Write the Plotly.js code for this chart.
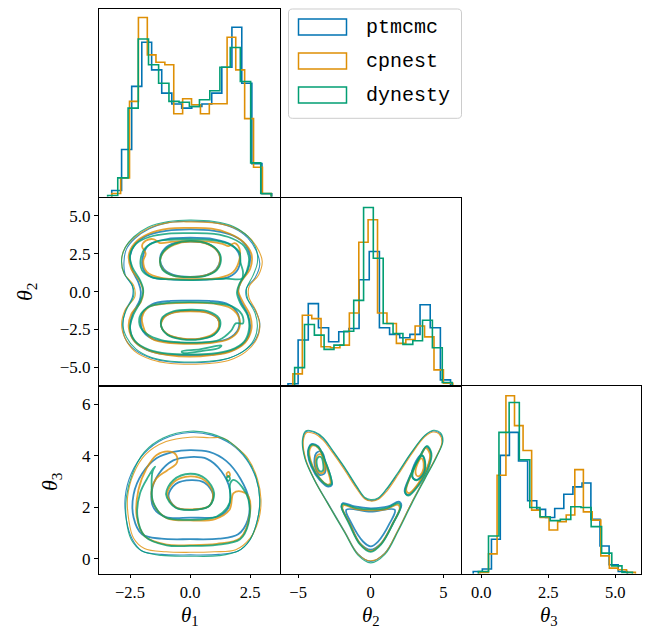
<!DOCTYPE html>
<html><head><meta charset="utf-8">
<script src="https://cdn.plot.ly/plotly-3.0.1.min.js"></script>
<style>html,body{margin:0;padding:0;background:#fff;}#chart{width:650px;height:628px;}</style>
</head><body><div id="chart"></div>
<script>
// ---------------- DATA ----------------
const seriesNames = ['ptmcmc', 'cpnest', 'dynesty'];
const seriesColors = ['#0173B2', '#DE8F05', '#029E73'];

// theta_1 marginal (step histograms, heights in % of panel height)
const t1Edges_ptmcmc = [-3.26,-2.85,-2.43,-2.01,-1.60,-1.18,-0.76,-0.35,0.07,0.49,0.90,1.32,1.74,2.15,2.57,2.99,3.40];
const t1Hist_ptmcmc  = [3.4,25.2,58.9,82.4,67.7,55.3,49.5,47.3,48.2,49.5,55.3,69.1,90.4,60.6,17.7,1.6];
const t1Edges_cpnest = [-3.26,-2.89,-2.52,-2.15,-1.78,-1.42,-1.05,-0.68,-0.31,0.06,0.43,0.80,1.17,1.54,1.90,2.27,2.64,3.01,3.38];
const t1Hist_cpnest  = [1.8,10.1,50.9,95.6,75.7,71.8,70.4,44.3,52.3,49.1,44.3,49.6,49.6,85.1,67.7,41.7,15.8,1.8];
const t1Edges_dynesty = [-3.43,-3.01,-2.58,-2.16,-1.73,-1.31,-0.88,-0.46,-0.03,0.39,0.82,1.24,1.67,2.09,2.52,2.94,3.37];
const t1Hist_dynesty  = [0.7,10.1,47.3,84.2,70.4,60.6,50.9,50.4,48.2,51.8,56.6,69.1,79.6,61.5,18.1,1.8];

// theta_2 marginal
const t2Edges_ptmcmc = [-5.70,-5.00,-4.30,-3.60,-2.90,-2.20,-1.50,-0.80,-0.10,0.60,1.30,2.00,2.70,3.40,4.10,4.80,5.50];
const t2Hist_ptmcmc  = [0.9,24.2,43.6,30.7,23.3,28.6,30.3,56.3,71.3,30.7,27.2,25.4,27.2,43.0,30.7,3.0];
const t2Edges_cpnest = [-5.36,-4.71,-4.06,-3.42,-2.77,-2.12,-1.47,-0.82,-0.18,0.47,1.12,1.77,2.42,3.06,3.71,4.36,5.01,5.66];
const t2Hist_cpnest  = [6.2,37.4,35.6,20.6,20.1,21.5,38.6,76.2,88.2,38.6,33.0,22.4,24.5,31.7,25.9,8.3,1.2];
const t2Edges_dynesty = [-5.24,-4.56,-3.88,-3.21,-2.53,-1.85,-1.17,-0.49,0.18,0.86,1.54,2.22,2.90,3.57,4.25,4.93,5.61];
const t2Hist_dynesty  = [9.5,32.5,26.8,19.2,21.5,28.9,45.3,94.7,67.7,33.0,27.7,21.9,23.8,34.7,20.1,1.6];

// theta_3 marginal
const t3Edges_ptmcmc = [-0.30,0.04,0.38,0.71,1.05,1.39,1.73,2.07,2.40,2.74,3.08,3.42,3.76,4.09,4.43,4.77,5.11,5.45];
const t3Hist_ptmcmc  = [1.2,2.5,18.4,63.1,75.4,60.1,38.9,34.3,30.0,34.8,42.4,46.3,48.4,29.0,14.8,4.8,1.2];
const t3Edges_cpnest = [-0.05,0.27,0.59,0.92,1.24,1.56,1.88,2.20,2.53,2.85,3.17,3.49,3.81,4.14,4.46,4.78,5.10,5.42,5.75];
const t3Hist_cpnest  = [0.7,10.6,52.5,94.9,79.0,65.7,33.9,30.0,23.3,27.7,31.3,55.5,33.0,28.6,9.5,3.0,2.1,0.7];
const t3Edges_dynesty = [-0.11,0.27,0.66,1.04,1.42,1.81,2.19,2.57,2.95,3.34,3.72,4.10,4.49,4.87,5.25,5.64];
const t3Hist_dynesty  = [1.2,20.1,75.4,91.3,60.8,35.3,30.4,28.3,29.0,35.7,35.3,25.1,11.0,4.2,0.7];

// contour lines (theta_1, theta_2); first curve = outermost
const c12_ptmcmc = [
 [[0,4.65],[1.0,4.55],[1.8,4.2],[2.4,3.55],[2.75,2.7],[2.9,1.8],[2.7,0.9],[2.35,0.25],[2.35,-0.4],[2.7,-1.2],[2.9,-2.1],[2.75,-3.1],[2.3,-3.85],[1.6,-4.4],[0.8,-4.65],[0,-4.7],[-0.8,-4.65],[-1.6,-4.4],[-2.3,-3.85],[-2.7,-3.1],[-2.8,-2.2],[-2.7,-1.3],[-2.4,-0.35],[-2.4,0.35],[-2.7,1.1],[-2.75,2.0],[-2.65,2.8],[-2.3,3.5],[-1.7,4.15],[-0.9,4.55],[0,4.65]],
 [[0,4.1],[1.0,4.0],[1.8,3.68],[2.3,3.1],[2.5,2.3],[2.4,1.4],[2.1,0.6],[2.0,0],[2.1,-0.6],[2.4,-1.5],[2.5,-2.4],[2.35,-3.2],[1.8,-3.85],[1.0,-4.15],[0,-4.2],[-1.0,-4.15],[-1.8,-3.85],[-2.35,-3.2],[-2.5,-2.4],[-2.4,-1.5],[-2.1,-0.6],[-2.05,0],[-2.15,0.6],[-2.4,1.4],[-2.5,2.3],[-2.3,3.1],[-1.8,3.68],[-1.0,4.0],[0,4.1]],
 [[0,3.55],[1.0,3.45],[1.7,3.1],[2.05,2.4],[2.0,1.5],[1.6,0.95],[0.8,0.8],[0,0.78],[-0.8,0.8],[-1.6,0.95],[-1.95,1.5],[-1.95,2.4],[-1.7,3.1],[-1.0,3.45],[0,3.55]],
 [[0,-0.6],[0.8,-0.62],[1.6,-0.85],[2.0,-1.5],[2.0,-2.5],[1.6,-3.1],[0.8,-3.35],[0,-3.4],[-0.8,-3.35],[-1.6,-3.1],[-2.0,-2.5],[-2.0,-1.5],[-1.6,-0.85],[-0.8,-0.62],[0,-0.6]],
 [[0,3.3],[0.75,3.15],[1.15,2.65],[1.25,2.1],[1.1,1.5],[0.7,1.1],[0,0.97],[-0.7,1.1],[-1.1,1.5],[-1.25,2.1],[-1.15,2.65],[-0.75,3.15],[0,3.3]],
 [[0,-1.25],[0.72,-1.38],[1.15,-1.8],[1.22,-2.3],[0.98,-2.85],[0.4,-3.12],[-0.3,-3.12],[-0.92,-2.85],[-1.2,-2.3],[-1.12,-1.75],[-0.7,-1.38],[0,-1.25]]
];
const c12_cpnest = [
 [[0,4.6],[0.9,4.55],[1.7,4.3],[2.3,3.8],[2.75,3.0],[3.0,2.0],[2.85,1.1],[2.45,0.3],[2.45,-0.4],[2.75,-1.3],[2.9,-2.3],[2.75,-3.2],[2.3,-4.0],[1.6,-4.55],[0.8,-4.75],[0,-4.8],[-0.8,-4.75],[-1.6,-4.5],[-2.3,-3.95],[-2.7,-3.1],[-2.85,-2.2],[-2.7,-1.2],[-2.3,-0.35],[-2.35,0.4],[-2.75,1.2],[-2.85,2.1],[-2.7,2.9],[-2.3,3.6],[-1.7,4.2],[-0.9,4.55],[0,4.6]],
 [[0,4.2],[0.9,4.15],[1.6,3.85],[2.2,3.3],[2.55,2.5],[2.5,1.5],[2.15,0.7],[2.0,0.1],[2.2,-0.7],[2.5,-1.6],[2.55,-2.5],[2.3,-3.35],[1.7,-3.95],[0.9,-4.2],[0,-4.3],[-0.9,-4.2],[-1.7,-3.9],[-2.3,-3.3],[-2.55,-2.4],[-2.45,-1.5],[-2.05,-0.7],[-1.95,0],[-2.1,0.7],[-2.45,1.5],[-2.55,2.4],[-2.3,3.2],[-1.75,3.8],[-0.9,4.15],[0,4.2]],
 [[0,3.35],[0.8,3.3],[1.35,3.15],[1.6,3.0],[1.85,3.2],[2.05,2.85],[2.05,2.1],[1.8,1.3],[1.2,0.9],[0,0.82],[-1.2,0.9],[-1.8,1.3],[-1.95,2.0],[-1.85,2.5],[-2.0,3.0],[-1.85,3.35],[-1.5,3.45],[-1.25,3.2],[-0.7,3.3],[0,3.35]],
 [[0,-0.75],[1.0,-0.8],[1.7,-1.1],[2.05,-1.8],[2.0,-2.6],[1.6,-3.15],[0.8,-3.4],[0,-3.45],[-0.8,-3.4],[-1.5,-3.2],[-1.85,-2.7],[-1.95,-2.3],[-2.0,-1.7],[-1.7,-1.0],[-1.0,-0.8],[0,-0.75]],
 [[0,3.3],[0.7,3.15],[1.15,2.65],[1.25,2.05],[1.1,1.45],[0.6,1.05],[0,0.95],[-0.7,1.05],[-1.15,1.5],[-1.25,2.05],[-1.1,2.6],[-0.65,3.1],[0,3.3]],
 [[0,-1.3],[0.7,-1.4],[1.15,-1.8],[1.2,-2.3],[0.95,-2.8],[0.4,-3.1],[-0.3,-3.1],[-0.9,-2.85],[-1.2,-2.3],[-1.1,-1.75],[-0.7,-1.4],[0,-1.3]]
];
const c12_dynesty = [
 [[0,4.72],[1.0,4.62],[1.8,4.3],[2.4,3.65],[2.75,2.8],[2.8,1.9],[2.6,1.0],[2.35,0.2],[2.4,-0.5],[2.7,-1.4],[2.8,-2.3],[2.65,-3.2],[2.25,-3.9],[1.6,-4.4],[0.8,-4.6],[0,-4.65],[-0.8,-4.6],[-1.6,-4.35],[-2.25,-3.8],[-2.65,-3.0],[-2.8,-2.1],[-2.65,-1.2],[-2.35,-0.3],[-2.4,0.4],[-2.75,1.2],[-2.85,2.1],[-2.7,2.9],[-2.35,3.6],[-1.75,4.25],[-0.9,4.62],[0,4.72]],
 [[0,3.85],[1.0,3.8],[1.75,3.5],[2.25,3.0],[2.45,2.2],[2.35,1.3],[2.05,0.5],[1.95,-0.1],[2.1,-0.8],[2.4,-1.6],[2.45,-2.5],[2.25,-3.3],[1.7,-3.85],[0.9,-4.1],[0,-4.15],[-0.9,-4.1],[-1.7,-3.85],[-2.3,-3.25],[-2.5,-2.4],[-2.35,-1.5],[-2.05,-0.6],[-1.95,0.1],[-2.1,0.8],[-2.4,1.6],[-2.5,2.4],[-2.25,3.15],[-1.7,3.6],[-0.9,3.82],[0,3.85]],
 [[0,3.45],[0.9,3.4],[1.6,3.15],[2.05,2.6],[2.1,1.9],[2.2,1.3],[2.15,0.85],[1.5,0.85],[0.8,0.8],[0,0.75],[-0.8,0.8],[-1.6,0.95],[-2.0,1.4],[-2.05,2.2],[-1.85,2.9],[-1.4,3.3],[-0.8,3.42],[0,3.45]],
 [[0,-0.7],[0.9,-0.75],[1.7,-0.95],[2.15,-1.5],[2.2,-2.1],[1.9,-2.1],[1.7,-2.6],[1.2,-3.2],[0.5,-3.35],[-0.4,-3.35],[-1.2,-3.2],[-1.8,-2.8],[-2.1,-2.2],[-2.05,-1.5],[-1.7,-1.0],[-0.9,-0.75],[0,-0.7]],
 [[0,3.35],[0.75,3.15],[1.2,2.6],[1.28,2.0],[1.1,1.4],[0.6,1.02],[0,0.95],[-0.7,1.05],[-1.15,1.45],[-1.25,2.05],[-1.1,2.65],[-0.65,3.15],[0,3.35]],
 [[0,-1.2],[0.75,-1.3],[1.2,-1.75],[1.25,-2.3],[1.0,-2.85],[0.4,-3.15],[-0.35,-3.15],[-0.95,-2.85],[-1.2,-2.3],[-1.15,-1.7],[-0.7,-1.3],[0,-1.2]],
 [[-0.35,-3.95],[0.4,-3.82],[1.0,-3.62],[1.3,-3.55],[1.2,-3.72],[0.6,-3.9],[-0.3,-4.05],[-0.35,-3.95]]
];

// contour lines (theta_1, theta_3)
const c13_ptmcmc = [
 [[0,4.9],[0.9,4.8],[1.7,4.45],[2.35,3.85],[2.75,3.1],[2.9,2.3],[2.8,1.5],[2.5,0.75],[2.0,0.3],[1.2,0.17],[0,0.15],[-1.2,0.17],[-2.0,0.3],[-2.4,0.75],[-2.65,1.5],[-2.7,2.4],[-2.45,3.3],[-1.9,4.1],[-1.1,4.65],[0,4.9]],
 [[0,4.22],[0.8,4.15],[1.5,3.8],[2.1,3.1],[2.45,2.3],[2.4,1.5],[2.0,0.95],[1.2,0.78],[0,0.76],[-1.2,0.78],[-2.0,0.95],[-2.35,1.6],[-2.35,2.5],[-2.0,3.3],[-1.4,3.9],[-0.7,4.15],[0,4.22]],
 [[0,3.95],[0.7,3.88],[1.3,3.4],[1.65,2.7],[1.6,2.0],[1.2,1.65],[0,1.6],[-1.0,1.62],[-1.5,1.95],[-1.6,2.6],[-1.3,3.3],[-0.7,3.82],[0,3.95]],
 [[0.05,3.05],[0.6,2.95],[0.95,2.5],[0.8,2.05],[0.1,1.9],[-0.6,2.0],[-0.9,2.45],[-0.6,2.9],[0.05,3.05]]
];
const c13_cpnest = [
 [[0,4.72],[0.8,4.7],[1.4,4.68],[1.9,4.35],[2.4,3.9],[2.8,3.1],[2.95,2.3],[2.85,1.5],[2.5,0.8],[1.9,0.35],[1.0,0.27],[0,0.25],[-1.0,0.27],[-1.9,0.4],[-2.35,0.8],[-2.55,1.5],[-2.6,2.4],[-2.35,3.3],[-1.85,4.05],[-1.0,4.55],[0,4.72]],
 [[-0.83,4.16],[-1.39,4.03],[-1.81,3.51],[-2.15,2.67],[-2.22,1.64],[-1.88,0.87],[-0.97,0.55],[0,0.53],[1.11,0.58],[2.08,0.8],[2.47,1.64],[2.43,2.42],[2.15,2.61],[1.81,2.55],[1.64,1.9],[1.04,1.54],[0,1.49],[-0.97,1.58],[-1.5,2.09],[-1.6,2.67],[-1.39,3.13],[-0.97,3.42],[-0.56,3.71],[-0.58,4.03],[-0.83,4.16]],
 [[0,3.2],[0.6,3.05],[0.95,2.55],[0.8,2.05],[0.1,1.92],[-0.6,2.0],[-0.95,2.5],[-0.65,3.0],[0,3.2]],
 [[1.52,3.3],[1.6,3.37],[1.66,3.25],[1.58,3.17],[1.52,3.3]]
];
const c13_dynesty = [
 [[0,4.95],[0.9,4.85],[1.7,4.5],[2.35,3.9],[2.75,3.15],[2.9,2.3],[2.8,1.5],[2.5,0.75],[2.0,0.3],[1.2,0.12],[0,0.1],[-1.2,0.13],[-2.0,0.3],[-2.45,0.75],[-2.65,1.5],[-2.65,2.4],[-2.4,3.3],[-1.9,4.15],[-1.1,4.7],[0,4.95]],
 [[-1.46,3.58],[-1.74,3.19],[-2.08,2.55],[-2.19,1.64],[-1.88,0.87],[-0.97,0.52],[0,0.5],[1.11,0.54],[2.08,0.76],[2.43,1.38],[2.43,2.29],[2.15,2.8],[1.81,3.06],[1.67,2.93],[1.64,2.16],[1.11,1.64],[0,1.51],[-1.04,1.61],[-1.53,2.18],[-1.6,2.8],[-1.56,3.39],[-1.46,3.58]],
 [[0,3.3],[0.65,3.1],[1.0,2.55],[0.8,2.05],[0.1,1.9],[-0.6,1.98],[-1.0,2.5],[-0.7,3.05],[0,3.3]],
 [[1.52,3.13],[1.6,3.22],[1.66,3.1],[1.58,3.02],[1.52,3.13]]
];

// contour lines (theta_2, theta_3)
const c23_ptmcmc = [
 [[-4.44,4.94],[-3.86,4.9],[-3.29,4.68],[-2.6,4.16],[-1.79,3.51],[-0.99,2.8],[-0.41,2.35],[0,2.26],[0.51,2.33],[1.08,2.67],[1.89,3.32],[2.8,4.1],[3.72,4.77],[4.3,4.96],[4.76,4.87],[4.94,4.55],[4.53,3.97],[3.72,3.13],[2.8,2.16],[1.89,1.12],[0.97,0.22],[0,-0.1],[-0.87,0.19],[-1.79,1.06],[-2.94,2.16],[-3.86,3.06],[-4.51,3.9],[-4.67,4.61],[-4.44,4.94]],
 [[-4.28,4.29],[-4.09,4.45],[-3.63,4.37],[-3.17,3.84],[-2.71,3.06],[-2.67,2.87],[-2.94,2.8],[-3.52,3.06],[-4.09,3.58],[-4.32,4.03],[-4.28,4.29]],
 [[3.84,4.35],[4.14,4.1],[3.95,3.58],[3.26,2.87],[2.57,2.48],[2.34,2.61],[2.69,3.19],[3.38,3.97],[3.84,4.35]],
 [[-1.91,2.16],[-1.1,2.03],[0,1.96],[1.2,2.03],[1.93,2.22],[2.11,2.09],[1.54,1.38],[0.74,0.61],[0,0.35],[-0.76,0.61],[-1.45,1.38],[-2.02,2.03],[-1.91,2.16]],
 [[-3.75,4.1],[-3.4,4.16],[-3.13,3.71],[-3.17,3.32],[-3.52,3.26],[-3.86,3.64],[-3.75,4.1]],
 [[3.49,4.03],[3.72,3.77],[3.61,3.32],[3.15,3.06],[2.85,3.19],[2.99,3.64],[3.49,4.03]],
 [[-1.68,1.9],[0,1.83],[1.66,1.9],[1.31,1.38],[0.51,0.67],[0,0.48],[-0.53,0.67],[-1.33,1.38],[-1.68,1.9]]
];
const c23_cpnest = [
 [[-4.4,4.9],[-3.85,4.85],[-3.3,4.62],[-2.6,4.1],[-1.8,3.45],[-1.0,2.75],[-0.4,2.32],[0,2.24],[0.5,2.3],[1.1,2.62],[1.9,3.27],[2.8,4.05],[3.7,4.72],[4.28,4.92],[4.72,4.84],[4.9,4.5],[4.5,3.95],[3.7,3.1],[2.78,2.13],[1.87,1.1],[0.95,0.2],[0,-0.08],[-0.88,0.18],[-1.8,1.05],[-2.95,2.14],[-3.85,3.04],[-4.48,3.88],[-4.64,4.58],[-4.4,4.9]],
 [[-4.2,4.25],[-4.0,4.4],[-3.6,4.3],[-3.2,3.8],[-2.8,3.1],[-2.78,2.92],[-3.0,2.88],[-3.5,3.12],[-4.0,3.6],[-4.22,4.02],[-4.2,4.25]],
 [[3.8,4.3],[4.08,4.05],[3.9,3.55],[3.25,2.9],[2.65,2.55],[2.45,2.65],[2.75,3.2],[3.4,3.95],[3.8,4.3]],
 [[-1.85,2.08],[-1.0,1.93],[0,1.88],[1.1,1.93],[1.85,2.1],[2.0,1.98],[1.48,1.33],[0.7,0.58],[0,0.3],[-0.72,0.58],[-1.42,1.33],[-1.95,1.98],[-1.85,2.08]],
 [[-3.7,4.0],[-3.42,4.05],[-3.2,3.7],[-3.22,3.38],[-3.5,3.33],[-3.78,3.62],[-3.7,4.0]],
 [[3.5,3.9],[3.65,3.7],[3.55,3.35],[3.25,3.2],[3.1,3.3],[3.2,3.65],[3.5,3.9]]
];
const c23_dynesty = [
 [[-4.46,4.97],[-3.86,4.93],[-3.27,4.7],[-2.58,4.18],[-1.77,3.53],[-0.97,2.82],[-0.4,2.38],[0,2.3],[0.5,2.36],[1.07,2.7],[1.88,3.35],[2.8,4.13],[3.74,4.8],[4.32,4.99],[4.8,4.9],[4.98,4.57],[4.56,3.97],[3.74,3.1],[2.82,2.12],[1.9,1.08],[0.98,0.17],[0,-0.16],[-0.88,0.14],[-1.8,1.02],[-2.96,2.14],[-3.88,3.05],[-4.54,3.9],[-4.7,4.63],[-4.46,4.97]],
 [[-4.25,4.3],[-4.05,4.43],[-3.6,4.33],[-3.15,3.8],[-2.72,3.1],[-2.7,2.9],[-2.95,2.85],[-3.5,3.1],[-4.05,3.6],[-4.28,4.03],[-4.25,4.3]],
 [[3.88,4.38],[4.18,4.1],[4.0,3.55],[3.3,2.85],[2.6,2.45],[2.38,2.58],[2.72,3.2],[3.42,4.0],[3.88,4.38]],
 [[-1.95,2.12],[-1.05,1.98],[0,1.92],[1.15,1.98],[1.9,2.16],[2.06,2.04],[1.52,1.35],[0.72,0.56],[0,0.27],[-0.74,0.56],[-1.48,1.35],[-2.0,2.0],[-1.95,2.12]],
 [[-3.65,3.92],[-3.43,3.95],[-3.27,3.66],[-3.3,3.42],[-3.5,3.4],[-3.7,3.62],[-3.65,3.92]],
 [[3.55,4.0],[3.75,3.75],[3.65,3.3],[3.2,3.05],[2.9,3.15],[3.05,3.6],[3.55,4.0]]
];

// axis ranges and tick labels
const t1Range = [-3.79, 3.72];
const t2Range = [-6.2, 6.2];
const t3Range = [-0.58, 6.7];
const t3HistRange = [-0.73, 5.96];
const t1Ticks = [-2.5, 0, 2.5], t1TickText = ['\u22122.5', '0.0', '2.5'];
const t2TicksY = [-5, -2.5, 0, 2.5, 5], t2TickTextY = ['\u22125.0', '\u22122.5', '0.0', '2.5', '5.0'];
const t2TicksX = [-5, 0, 5], t2TickTextX = ['\u22125', '0', '5'];
const t3TicksY = [0, 2, 4, 6], t3TickTextY = ['0', '2', '4', '6'];
const t3TicksX = [0, 2.5, 5], t3TickTextX = ['0.0', '2.5', '5.0'];

// ---------------- BUILD ----------------
const W = 650, H = 628;
const PX = x => x / W, PY = y => 1 - y / H;
const traces = [];
function histXY(edges, h) {
  const x = [edges[0]], y = [0];
  for (let i = 0; i < h.length; i++) { x.push(edges[i]); y.push(h[i]); }
  x.push(edges[h.length]); y.push(0);
  return {x, y};
}
function addHist(edges, h, xa, ya, color) {
  const d = histXY(edges, h);
  traces.push({type:'scatter', mode:'lines', x:d.x, y:d.y, xaxis:xa, yaxis:ya,
    line:{color:color, width:1.6, shape:'hv'}, hoverinfo:'skip', showlegend:false});
}
function addContours(curves, xa, ya, color) {
  curves.forEach((c, i) => {
    traces.push({type:'scatter', mode:'lines', x:c.map(p => p[0]), y:c.map(p => p[1]), xaxis:xa, yaxis:ya,
      line:{color:color, width:(i === 0 ? 1.1 : 1.8), shape:'spline', smoothing:1.0},
      opacity:0.8, hoverinfo:'skip', showlegend:false});
  });
}
const hist1 = [[t1Edges_ptmcmc,t1Hist_ptmcmc],[t1Edges_cpnest,t1Hist_cpnest],[t1Edges_dynesty,t1Hist_dynesty]];
const hist2 = [[t2Edges_ptmcmc,t2Hist_ptmcmc],[t2Edges_cpnest,t2Hist_cpnest],[t2Edges_dynesty,t2Hist_dynesty]];
const hist3 = [[t3Edges_ptmcmc,t3Hist_ptmcmc],[t3Edges_cpnest,t3Hist_cpnest],[t3Edges_dynesty,t3Hist_dynesty]];
const cont12 = [c12_ptmcmc, c12_cpnest, c12_dynesty];
const cont13 = [c13_ptmcmc, c13_cpnest, c13_dynesty];
const cont23 = [c23_ptmcmc, c23_cpnest, c23_dynesty];
for (let s = 0; s < 3; s++) {
  addHist(hist1[s][0], hist1[s][1], 'x', 'y', seriesColors[s]);
  addContours(cont12[s], 'x2', 'y2', seriesColors[s]);
  addHist(hist2[s][0], hist2[s][1], 'x3', 'y3', seriesColors[s]);
  addContours(cont13[s], 'x4', 'y4', seriesColors[s]);
  addContours(cont23[s], 'x5', 'y5', seriesColors[s]);
  addHist(hist3[s][0], hist3[s][1], 'x6', 'y6', seriesColors[s]);
}

const col1 = [PX(99), PX(279.5)], col2 = [PX(280.7), PX(460.7)], col3 = [PX(461.7), PX(641)];
const row1 = [PY(196.8), PY(9.3)], row2 = [PY(385.5), PY(197.6)], row3 = [PY(573.7), PY(386.2)];
const tickFont = {family:'Liberation Serif, serif', size:17, color:'#000'};
function ax(domain, range, anchor, opts) {
  return Object.assign({domain:domain, range:range, anchor:anchor, showline:true, mirror:true,
    linecolor:'#000', linewidth:1.1, showgrid:false, zeroline:false, ticks:'', showticklabels:false,
    fixedrange:true, tickfont:tickFont}, opts || {});
}
const tk = (vals, text) => ({ticks:'outside', ticklen:4, tickwidth:1, tickcolor:'#000',
  tickmode:'array', tickvals:vals, ticktext:text, showticklabels:true});
const tkx = (vals, text) => Object.assign(tk(vals, text), {ticklen:3.5, tickfont:{family:'Liberation Serif, serif', size:16.5, color:'#000'}});

const annFont = {family:'Liberation Serif, serif', size:21, color:'#000'};
const annotations = [
  {text:'<i>θ</i><sub>1</sub>', x:PX(190), y:PY(629.5), xref:'paper', yref:'paper', showarrow:false, xanchor:'center', yanchor:'bottom', borderpad:0, font:annFont},
  {text:'<i>θ</i><sub>2</sub>', x:PX(371), y:PY(629.5), xref:'paper', yref:'paper', showarrow:false, xanchor:'center', yanchor:'bottom', borderpad:0, font:annFont},
  {text:'<i>θ</i><sub>3</sub>', x:PX(549), y:PY(629.5), xref:'paper', yref:'paper', showarrow:false, xanchor:'center', yanchor:'bottom', borderpad:0, font:annFont},
  {text:'<i>θ</i><sub>2</sub>', x:PX(26), y:PY(292), xref:'paper', yref:'paper', showarrow:false, xanchor:'center', yanchor:'middle', textangle:-90, font:{family:'Liberation Serif, serif', size:22, color:'#000'}},
  {text:'<i>θ</i><sub>3</sub>', x:PX(51), y:PY(482), xref:'paper', yref:'paper', showarrow:false, xanchor:'center', yanchor:'middle', textangle:-90, font:{family:'Liberation Serif, serif', size:22, color:'#000'}}
];

// manual legend
function roundRect(x0, y0, x1, y1, r) {
  const p = (x, y) => PX(x).toFixed(5) + ',' + PY(y).toFixed(5);
  return 'M' + p(x0 + r, y0) + ' L' + p(x1 - r, y0) + ' Q' + p(x1, y0) + ' ' + p(x1, y0 + r) +
    ' L' + p(x1, y1 - r) + ' Q' + p(x1, y1) + ' ' + p(x1 - r, y1) +
    ' L' + p(x0 + r, y1) + ' Q' + p(x0, y1) + ' ' + p(x0, y1 - r) +
    ' L' + p(x0, y0 + r) + ' Q' + p(x0, y0) + ' ' + p(x0 + r, y0) + ' Z';
}
const shapes = [{type:'path', xref:'paper', yref:'paper', path:roundRect(288.5, 9, 461.5, 118.3, 4),
  line:{color:'#cccccc', width:1}, fillcolor:'rgba(255,255,255,0.85)'}];
const legRows = [27, 61, 95];
for (let s = 0; s < 3; s++) {
  shapes.push({type:'rect', xref:'paper', yref:'paper', x0:PX(298.5), x1:PX(346.5),
    y0:PY(legRows[s] + 8), y1:PY(legRows[s] - 8), line:{color:seriesColors[s], width:1.5}, fillcolor:'rgba(0,0,0,0)'});
  annotations.push({text:seriesNames[s], x:PX(364), y:PY(legRows[s]), xref:'paper', yref:'paper', showarrow:false,
    xanchor:'left', yanchor:'middle', font:{family:'Liberation Mono, monospace', size:20, color:'#000'}});
}

const layout = {
  width:W, height:H, margin:{l:0, r:0, t:0, b:0}, paper_bgcolor:'#fff', plot_bgcolor:'#fff', showlegend:false,
  xaxis:  ax(col1, t1Range, 'y'),
  yaxis:  ax(row1, [0, 100], 'x'),
  xaxis2: ax(col1, t1Range, 'y2'),
  yaxis2: ax(row2, t2Range, 'x2', tk(t2TicksY, t2TickTextY)),
  xaxis3: ax(col2, t2Range, 'y3'),
  yaxis3: ax(row2, [0, 100], 'x3'),
  xaxis4: ax(col1, t1Range, 'y4', tkx(t1Ticks, t1TickText)),
  yaxis4: ax(row3, t3Range, 'x4', tk(t3TicksY, t3TickTextY)),
  xaxis5: ax(col2, t2Range, 'y5', tkx(t2TicksX, t2TickTextX)),
  yaxis5: ax(row3, t3Range, 'x5'),
  xaxis6: ax(col3, t3HistRange, 'y6', tkx(t3TicksX, t3TickTextX)),
  yaxis6: ax(row3, [0, 100], 'x6'),
  annotations:annotations, shapes:shapes
};
Plotly.newPlot('chart', traces, layout, {staticPlot:true, displayModeBar:false});
</script></body></html>
